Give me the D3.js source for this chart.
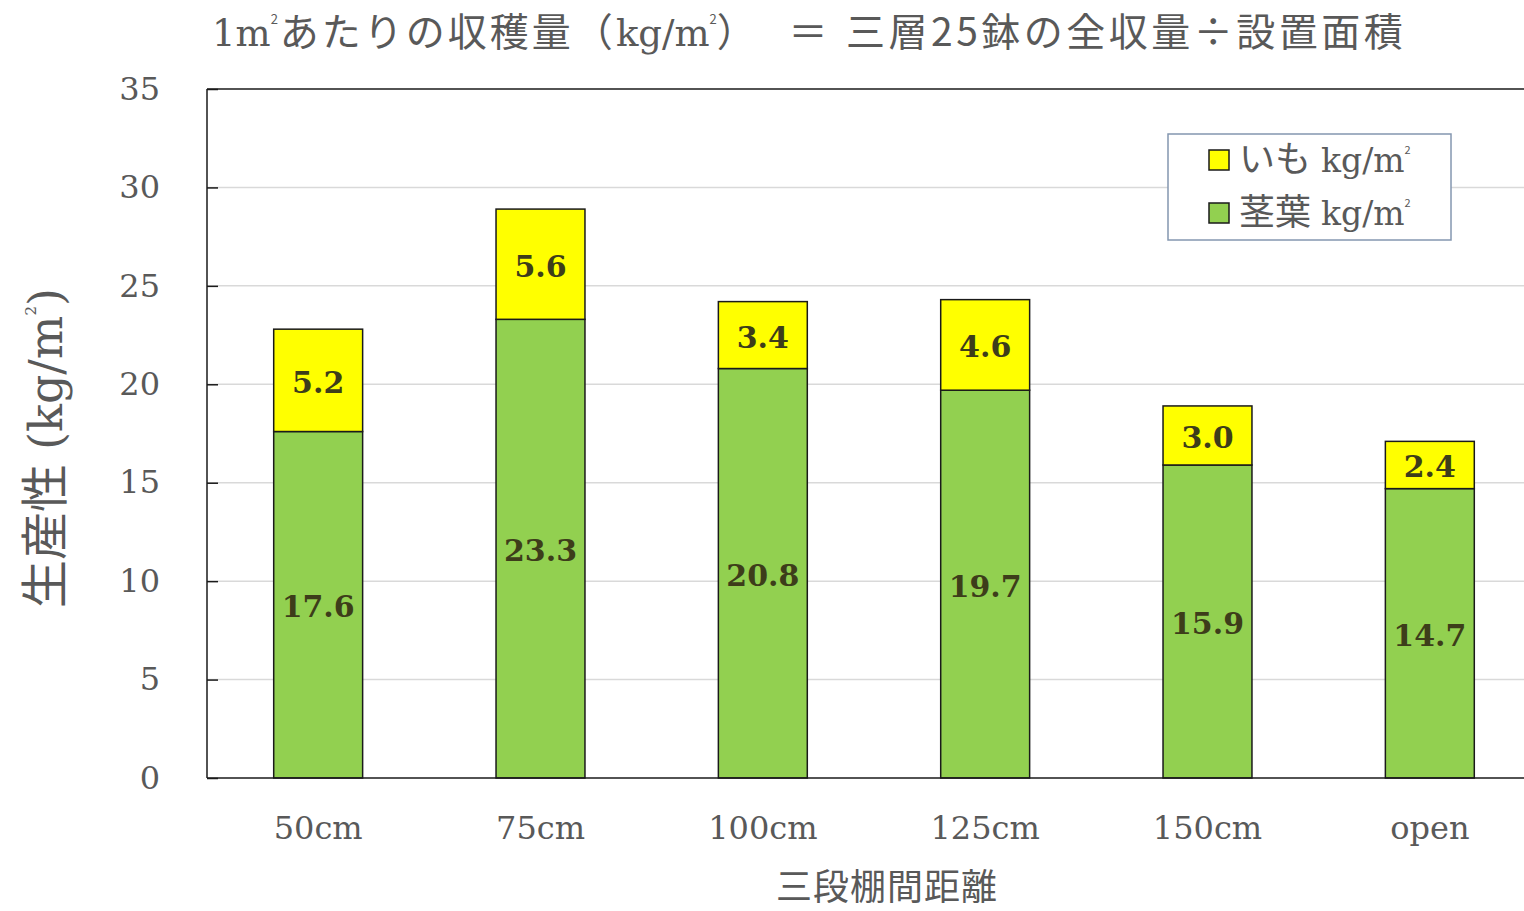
<!DOCTYPE html>
<html>
<head>
<meta charset="utf-8">
<script src="https://cdn.jsdelivr.net/npm/d3@7/dist/d3.min.js"></script>
<style>
  html, body { margin: 0; padding: 0; background: #ffffff; }
  svg { display: block; }
</style>
</head>
<body>
<svg id="chart" width="1524" height="911"></svg>
<script>
// Spacing between three-tier shelves
const categories = ["50cm", "75cm", "100cm", "125cm", "150cm", "open"];
// Stem & leaf yield (kg/m²)
const stemLeaf = [17.6, 23.3, 20.8, 19.7, 15.9, 14.7];
// Tuber yield (kg/m²)
const tuber = [5.2, 5.6, 3.4, 4.6, 3.0, 2.4];
const yTicks = [0, 5, 10, 15, 20, 25, 30, 35];

const serif = "'DejaVu Serif', 'Noto Sans CJK JP', serif";
const gothic = "'Noto Sans CJK JP', sans-serif";
const textGray = "#595959";
const green = "#92d050";
const yellow = "#ffff00";

const svg = d3.select("#chart");
const plotLeft = 207, plotTop = 89, plotBottom = 778, plotRight = 1541;

const x = d3.scaleBand().domain(categories).range([plotLeft, plotRight]).paddingInner(0.6).paddingOuter(0.3);
const y = d3.scaleLinear().domain([0, 35]).range([plotBottom, plotTop]);

// gridlines
svg.append("g").selectAll("line").data(yTicks.filter(d => d > 0 && d < 35)).join("line")
  .attr("x1", plotLeft).attr("x2", 1524)
  .attr("y1", d => y(d)).attr("y2", d => y(d))
  .attr("stroke", "#d9d9d9").attr("stroke-width", 1.5);

// stacked bars
const rows = categories.map((c, i) => ({ c, g: stemLeaf[i], t: tuber[i] }));
const bars = svg.append("g");
bars.selectAll("rect.g").data(rows).join("rect")
  .attr("x", d => x(d.c)).attr("width", x.bandwidth())
  .attr("y", d => y(d.g)).attr("height", d => y(0) - y(d.g))
  .attr("fill", green).attr("stroke", "#1a1a1a").attr("stroke-width", 1.5);
bars.selectAll("rect.t").data(rows).join("rect")
  .attr("x", d => x(d.c)).attr("width", x.bandwidth())
  .attr("y", d => y(d.g + d.t)).attr("height", d => y(d.g) - y(d.g + d.t))
  .attr("fill", yellow).attr("stroke", "#1a1a1a").attr("stroke-width", 1.5);

// value labels
const lab = svg.append("g").attr("font-family", serif).attr("font-weight", "bold")
  .attr("font-size", 30).attr("fill", "#3d3d1a").attr("text-anchor", "middle")
  .attr("dominant-baseline", "central");
lab.selectAll("text.g").data(rows).join("text")
  .attr("x", d => x(d.c) + x.bandwidth() / 2)
  .attr("y", d => (y(0) + y(d.g)) / 2 + 2)
  .text(d => d.g.toFixed(1));
lab.selectAll("text.t").data(rows).join("text")
  .attr("x", d => x(d.c) + x.bandwidth() / 2)
  .attr("y", d => (y(d.g) + y(d.g + d.t)) / 2 + 2)
  .text(d => d.t.toFixed(1));

// axes frame
const yAxis = d3.axisLeft(y).tickValues(yTicks).tickSize(-11).tickPadding(47).tickFormat(d3.format("d"));
const gy = svg.append("g").attr("transform", `translate(${plotLeft},0)`).call(yAxis);
gy.select(".domain").remove();
gy.selectAll(".tick line").attr("stroke", "#1a1a1a").attr("stroke-width", 1.5);
gy.selectAll(".tick text").attr("font-family", serif).attr("font-size", 32).attr("fill", textGray);

svg.append("line").attr("x1", plotLeft).attr("x2", plotLeft).attr("y1", plotTop).attr("y2", plotBottom)
  .attr("stroke", "#1a1a1a").attr("stroke-width", 1.5);
svg.append("line").attr("x1", plotLeft).attr("x2", 1524).attr("y1", plotTop).attr("y2", plotTop)
  .attr("stroke", "#1a1a1a").attr("stroke-width", 1.5);

const xAxis = d3.axisBottom(x).tickSize(0).tickPadding(38);
const gx = svg.append("g").attr("transform", `translate(0,${plotBottom})`).call(xAxis);
gx.select(".domain").remove();
svg.append("line").attr("x1", plotLeft).attr("x2", 1524).attr("y1", plotBottom).attr("y2", plotBottom)
  .attr("stroke", "#1a1a1a").attr("stroke-width", 1.5);
gx.selectAll(".tick text").attr("font-family", serif).attr("font-size", 32).attr("fill", textGray);

// title
const title = svg.append("text").attr("x", 212).attr("y", 46)
  .attr("font-size", 39).attr("fill", textGray).attr("font-family", gothic);
title.append("tspan").attr("font-family", serif).attr("font-size", 37).text("1m");
title.append("tspan").attr("font-size", 13).attr("dy", -22).attr("dx", 0).text("2");
title.append("tspan").attr("dy", 22).attr("dx", 2).attr("letter-spacing", 3).text("あたりの収穫量（");
title.append("tspan").attr("font-family", serif).attr("font-size", 37).text("kg/m");
title.append("tspan").attr("font-size", 13).attr("dy", -22).attr("dx", 0).text("2");
title.append("tspan").attr("dy", 22).attr("dx", 0).text("）");
svg.append("text").attr("x", 808).attr("y", 46).attr("text-anchor", "middle")
  .attr("font-size", 39).attr("fill", textGray).attr("font-family", gothic).text("＝");
svg.append("text").attr("x", 846).attr("y", 46).attr("letter-spacing", 3.5)
  .attr("font-size", 39).attr("fill", textGray).attr("font-family", gothic)
  .text("三層25鉢の全収量÷設置面積");

// y axis title
const yt = svg.append("text").attr("transform", "translate(62,448) rotate(-90)")
  .attr("text-anchor", "middle").attr("font-size", 48).attr("fill", textGray).attr("font-family", gothic);
yt.append("tspan").text("生産性");
yt.append("tspan").attr("font-family", serif).attr("font-size", 46).attr("dx", 14).text("(kg/m");
yt.append("tspan").attr("font-family", serif).attr("font-size", 15).attr("dy", -26).attr("dx", 0).text("2");
yt.append("tspan").attr("font-family", serif).attr("font-size", 46).attr("dy", 26).attr("dx", 0).text(")");

// x axis title
svg.append("text").attr("x", 887).attr("y", 900).attr("text-anchor", "middle")
  .attr("font-size", 36).attr("letter-spacing", 1).attr("fill", textGray).attr("font-family", gothic).text("三段棚間距離");

// legend
const legend = svg.append("g");
legend.append("rect").attr("x", 1168).attr("y", 134).attr("width", 283).attr("height", 106)
  .attr("fill", "#ffffff").attr("stroke", "#8497b0").attr("stroke-width", 1.5);
const legendItems = [{ name: "いも", color: yellow }, { name: "茎葉", color: green }];
const li = legend.selectAll("g.item").data(legendItems).join("g")
  .attr("transform", (d, i) => `translate(1209,${150 + i * 53})`);
li.append("rect").attr("width", 20).attr("height", 20).attr("fill", d => d.color)
  .attr("stroke", "#1a1a1a").attr("stroke-width", 1.5);
const lt = li.append("text").attr("x", 30).attr("y", 22).attr("font-size", 36)
  .attr("fill", textGray).attr("font-family", gothic);
lt.append("tspan").text(d => d.name);
lt.append("tspan").attr("font-family", serif).attr("font-size", 33).attr("dx", 10).text("kg/m");
lt.append("tspan").attr("font-size", 11).attr("dy", -18).attr("dx", 0).text("2");
</script>
</body>
</html>
